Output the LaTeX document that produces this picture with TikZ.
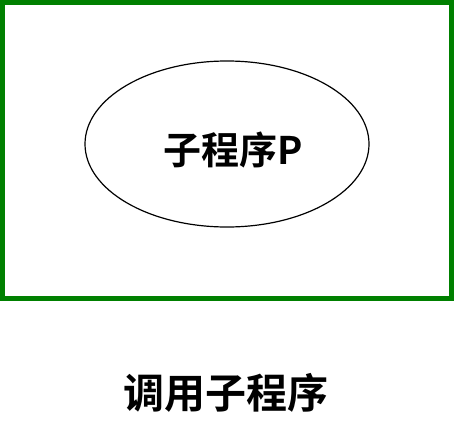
\documentclass[tikz,border=0pt]{standalone}
\usepackage{fontspec}
\setmainfont{Noto Sans CJK SC Bold}
\newfontfamily\cjkbold{Noto Sans CJK SC Bold}
\usetikzlibrary{shapes.geometric}

\begin{document}
\begin{tikzpicture}[x=1pt,y=1pt]
\tikzstyle{every node}=[inner sep=0pt, outer sep=0pt]
\tikzstyle{frame}=[draw={rgb,255:red,0;green,128;blue,0}, line width=5pt, minimum width=449pt, minimum height=295.5pt]
\tikzstyle{blob}=[draw, ellipse, line width=1.2pt, minimum width=284pt, minimum height=166pt]
\useasboundingbox (0,0) rectangle (454,440);
\draw (227,289.75) node (frame) [frame] {};
\draw (227,296) node (sub) [blob] {};
\draw (233,290) node (subname) {\cjkbold\fontsize{38}{38}\selectfont 子程序P};
\draw (226,47) node (caption) {\cjkbold\fontsize{41}{41}\selectfont 调用子程序};
\end{tikzpicture}
\end{document}
